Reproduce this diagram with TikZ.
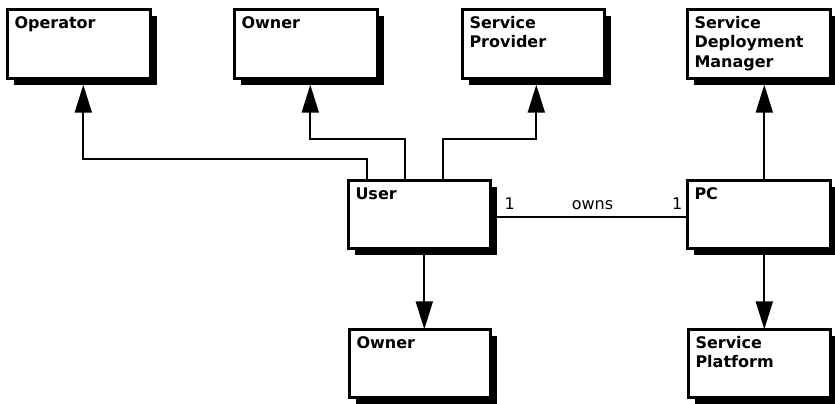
\documentclass[tikz,border=0pt]{standalone}
\usepackage{fontspec}
\setmainfont{DejaVu Sans}
\usetikzlibrary{arrows.meta,shadows,calc}

\tikzset{
  classbox/.style={draw, line width=2.6pt, fill=white, rectangle, anchor=north west,
    inner sep=0pt, outer sep=0pt, minimum width=#1,
    drop shadow={shadow xshift=6.5pt, shadow yshift=-6.5pt, opacity=1, fill=black}},
  classname/.style={anchor=base west, inner sep=0pt,
    font=\bfseries\fontsize{16}{19.5}\selectfont},
  conn/.style={line width=2pt},
  arr/.style={conn, -{Triangle[length=28pt,width=17pt]}},
  lbl/.style={inner sep=0pt, font=\fontsize{16}{19}\selectfont}
}
\newcommand\classname[2]{\parbox[t]{130pt}{\raggedright #2}}

\begin{document}
\begin{tikzpicture}[x=1pt,y=-1pt]
\useasboundingbox (0,0) rectangle (835,404);

% class boxes (outer top-left corner, outer width; height 72)
\node[classbox=143.4pt, minimum height=69.4pt] (op)   at (7.3,9.3)   {};
\node[classbox=143.4pt, minimum height=69.4pt] (ownA) at (234.3,9.3) {};
\node[classbox=142.4pt, minimum height=69.4pt] (sp)   at (462.3,9.3) {};
\node[classbox=143.4pt, minimum height=69.4pt] (sdm)  at (687.3,9.3) {};
\node[classbox=142.4pt, minimum height=68.4pt] (user) at (348.3,180.3) {};
\node[classbox=143.4pt, minimum height=68.4pt] (pc)   at (687.3,180.3) {};
\node[classbox=141.4pt, minimum height=68.4pt] (ownB) at (349.3,329.3) {};
\node[classbox=142.4pt, minimum height=68.4pt] (spl)  at (688.3,329.3) {};

% class names
\node[classname] (tOp)   at ($(op.north west)+(7,19)$)   {\classname{}{Operator}};
\node[classname] (tOwnA) at ($(ownA.north west)+(7,19)$) {\classname{}{Owner}};
\node[classname] (tSp)   at ($(sp.north west)+(7,19)$)   {\classname{}{Service\\Provider}};
\node[classname] (tSdm)  at ($(sdm.north west)+(7,19)$)  {\classname{}{Service\\Deployment\\Manager}};
\node[classname] (tUser) at ($(user.north west)+(7,19)$) {\classname{}{User}};
\node[classname] (tPc)   at ($(pc.north west)+(7,19)$)   {\classname{}{PC}};
\node[classname] (tOwnB) at ($(ownB.north west)+(7,19)$) {\classname{}{Owner}};
\node[classname] (tSpl)  at ($(spl.north west)+(7,19)$)  {\classname{}{Service\\Platform}};

% generalisations out of User
\draw[arr] ($(user.north west)+(19,0)$) |- ($(op.south west)+(76,80)$)
           -- ($(op.south west)+(76,6)$);
\draw[arr] ($(user.north west)+(57,0)$) |- ($(ownA.south west)+(76,60)$)
           -- ($(ownA.south west)+(76,6)$);
\draw[arr] ($(user.north west)+(95,0)$) |- ($(sp.south west)+(74,60)$)
           -- ($(sp.south west)+(74,6)$);
\draw[arr] ($(user.south west)+(76,0)$) -- ($(ownB.north west)+(75,0)$);

% PC relations
\draw[arr] ($(pc.north west)+(77,0)$) -- ($(sdm.south west)+(77,6)$);
\draw[arr] ($(pc.south west)+(77,0)$) -- ($(spl.north west)+(76,0)$);

% association User -- PC
\draw[conn] ($(user.east)+(6,2.5)$) --
    node[lbl, pos=0, anchor=base west, xshift=7pt, yshift=8pt] (m1) {1}
    node[lbl, midway, anchor=base, yshift=8pt] (own) {owns}
    node[lbl, pos=1, anchor=base east, xshift=-5pt, yshift=8pt] (m2) {1}
    ($(pc.west)+(1,2.5)$);
\end{tikzpicture}
\end{document}
